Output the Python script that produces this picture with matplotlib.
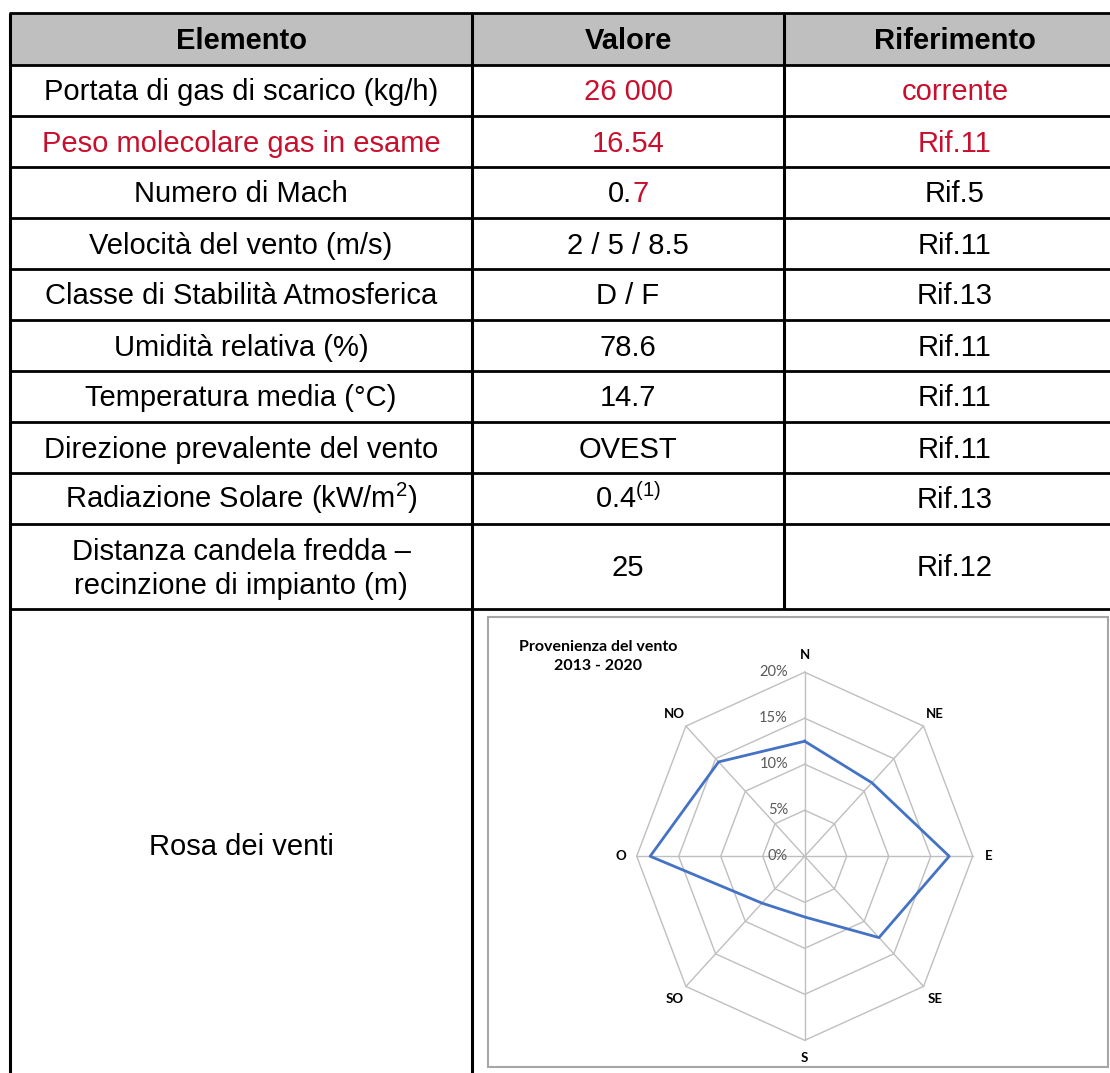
import numpy as np
import matplotlib
matplotlib.use('Agg')
import matplotlib.pyplot as plt
from matplotlib.patches import Rectangle

plt.rcParams['font.family'] = ['Liberation Sans', 'DejaVu Sans']
plt.rcParams['mathtext.fontset'] = 'custom'
plt.rcParams['mathtext.rm'] = 'Liberation Sans'
plt.rcParams['mathtext.default'] = 'regular'

# dati della tabella
intestazioni = ['Elemento', 'Valore', 'Riferimento']
elementi = ['Portata di gas di scarico (kg/h)', 'Peso molecolare gas in esame',
            'Numero di Mach', 'Velocità del vento (m/s)',
            'Classe di Stabilità Atmosferica', 'Umidità relativa (%)',
            'Temperatura media (°C)', 'Direzione prevalente del vento',
            'Radiazione Solare (kW/m$^{2}$)',
            'Distanza candela fredda –\nrecinzione di impianto (m)',
            'Rosa dei venti']
valori = ['26 000', '16.54', '0.7', '2 / 5 / 8.5', 'D / F', '78.6', '14.7',
          'OVEST', '0.4$^{(1)}$', '25', '']
riferimenti = ['corrente', 'Rif.11', 'Rif.5', 'Rif.11', 'Rif.13', 'Rif.11',
               'Rif.11', 'Rif.11', 'Rif.13', 'Rif.12', '']
# righe in rosso: (elemento, valore, riferimento)
rosso = [(False, True, True), (True, True, True), (False, False, False)] + [(False, False, False)] * 8

# dati della rosa dei venti
direzioni = ['N', 'NE', 'E', 'SE', 'S', 'SO', 'O', 'NO']
frequenze = [12.5, 11.3, 17.2, 12.5, 6.6, 7.2, 18.4, 14.5]
livelli = [0, 5, 10, 15, 20]

ROSSO = '#C8102E'
fs = 21

fig = plt.figure(figsize=(11.1, 10.73), dpi=100)
ax = fig.add_axes([0, 0, 1, 1])
ax.set_xlim(0, 1110)
ax.set_ylim(1073, 0)
ax.axis('off')

# griglia della tabella (in pixel)
x_col = [10, 472, 784, 1126]
y_row = [13, 65] + [65 + 51 * (i + 1) for i in range(9)] + [609, 1080]

ax.add_patch(Rectangle((x_col[0], y_row[0]), x_col[-1] - x_col[0], y_row[1] - y_row[0],
                       facecolor='#BFBFBF', edgecolor='none', zorder=0))
for y in y_row[:-1]:
    ax.plot([x_col[0] - 1, x_col[-1]], [y, y], color='black', lw=2.0, solid_capstyle='butt')
for x in x_col:
    fondo = y_row[-2] if x == x_col[2] else y_row[-1]
    ax.plot([x, x], [y_row[0], fondo], color='black', lw=2.2, solid_capstyle='butt')

cx = [(x_col[i] + x_col[i + 1]) / 2 for i in range(3)]

for j, h in enumerate(intestazioni):
    ax.text(cx[j], (y_row[0] + y_row[1]) / 2 + 10, h, ha='center', va='baseline',
            fontsize=fs, fontweight='bold')

for i in range(len(elementi)):
    yc = (y_row[i + 1] + y_row[i + 2]) / 2
    if i == len(elementi) - 1:
        yc = 845
    r_el, r_val, r_rif = rosso[i]
    if '\n' in elementi[i]:
        righe = elementi[i].split('\n')
        ax.text(cx[0], yc - 7, righe[0], ha='center', va='baseline', fontsize=fs)
        ax.text(cx[0], yc + 27, righe[1], ha='center', va='baseline', fontsize=fs)
    else:
        ax.text(cx[0], yc + 10, elementi[i], ha='center', va='baseline', fontsize=fs,
                color=ROSSO if r_el else 'black')
    if valori[i] == '0.7':
        ax.text(632, yc + 10, '0.', ha='right', va='baseline', fontsize=fs)
        ax.text(632, yc + 10, '7', ha='left', va='baseline', fontsize=fs, color=ROSSO)
    else:
        ax.text(cx[1], yc + 10, valori[i], ha='center', va='baseline', fontsize=fs,
                color=ROSSO if r_val else 'black')
    ax.text(cx[2], yc + 10, riferimenti[i], ha='center', va='baseline', fontsize=fs,
            color=ROSSO if r_rif else 'black')

# riquadro del grafico
ax.add_patch(Rectangle((488, 617), 620, 450, facecolor='white', edgecolor='#A6A6A6', lw=1.5))

# rosa dei venti
rad = fig.add_axes([488 / 1110, 6 / 1073, 620 / 1110, 450 / 1073])
rad.set_xlim(-37.7, 36.1)
rad.set_ylim(-22.9, 26.0)
rad.axis('off')

theta = np.deg2rad(np.arange(len(direzioni)) * 45)
for lv in livelli[1:]:
    xs = lv * np.sin(np.append(theta, theta[0]))
    ys = lv * np.cos(np.append(theta, theta[0]))
    rad.plot(xs, ys, color='#BFBFBF', lw=1.0)
for t in theta:
    rad.plot([0, livelli[-1] * np.sin(t)], [0, livelli[-1] * np.cos(t)], color='#BFBFBF', lw=1.0)

f = np.array(frequenze + frequenze[:1])
th = np.append(theta, theta[0])
rad.plot(f * np.sin(th), f * np.cos(th), color='#4472C4', lw=2.0)

for lv in livelli:
    rad.text(-2.0, lv, f'{lv}%', ha='right', va='center', fontsize=10.5,
             color='#595959', family='Lato')

for d, t in zip(direzioni, theta):
    rad.text(21.9 * np.sin(t), 21.9 * np.cos(t), d, ha='center', va='center',
             fontsize=9.5, fontweight='bold', family='Lato')

rad.text(0.177, 0.913, 'Provenienza del vento\n2013 - 2020', transform=rad.transAxes,
         ha='center', va='center', multialignment='center', fontsize=11.5,
         fontweight='bold', family='Lato', linespacing=1.45)

fig.savefig('out.png', dpi=100)
